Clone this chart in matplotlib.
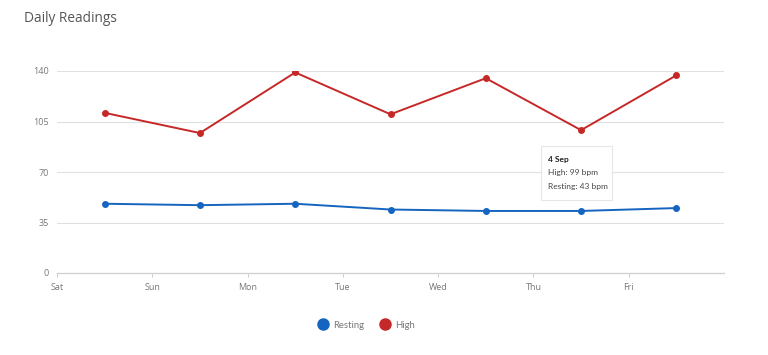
import matplotlib.pyplot as plt
from matplotlib.patches import Rectangle
from matplotlib.lines import Line2D

plt.rcParams['font.family'] = ['Open Sans', 'DejaVu Sans']

# day ticks (start of each day) and readings taken mid-day
day_labels = ['Sat', 'Sun', 'Mon', 'Tue', 'Wed', 'Thu', 'Fri']
day_pos = [0, 1, 2, 3, 4, 5, 6]
reading_pos = [0.5, 1.5, 2.5, 3.5, 4.5, 5.5, 6.5]
resting = [48, 47, 48, 44, 43, 43, 45]
high = [111, 97, 139, 110, 135, 99, 137]
y_ticks = [0, 35, 70, 105, 140]

blue = '#1565c0'
red = '#c62828'
grey_text = '#777777'

fig = plt.figure(figsize=(7.68, 3.55), dpi=100)
ax = fig.add_axes([57 / 768, 1 - 273 / 355, (724 - 57) / 768, (273 - 71) / 355])

ax.plot(reading_pos, resting, color=blue, lw=1.4, marker='o', ms=4, zorder=3)
ax.plot(reading_pos, high, color=red, lw=1.4, marker='o', ms=4, zorder=3)

ax.set_xlim(0, 7)
ax.set_ylim(0, 140)
ax.set_yticks(y_ticks)
ax.set_xticks(day_pos)
ax.set_xticklabels(day_labels)
ax.grid(axis='y', color='#e0e0e0', lw=0.8)
ax.set_axisbelow(True)
for s in ['top', 'right', 'left']:
    ax.spines[s].set_visible(False)
ax.spines['bottom'].set_color('#cfcfcf')
ax.spines['bottom'].set_linewidth(0.9)
ax.tick_params(axis='y', length=0, pad=6, labelsize=6.5, labelcolor=grey_text)
ax.tick_params(axis='x', length=3, color='#cfcfcf', pad=4, labelsize=6.5, labelcolor=grey_text)

fig.text(24 / 768, 1 - 19 / 355, 'Daily Readings', fontsize=9.8, color='#555555', va='center')

# tooltip for Thu
tip_font = ['Lato', 'DejaVu Sans']
fig.patches.append(Rectangle((541 / 768, 1 - 200 / 355), 71 / 768, 54 / 355,
                             transform=fig.transFigure, facecolor='white',
                             edgecolor='#e6e6e6', lw=0.8, zorder=5))
fig.text(548 / 768, 1 - 159 / 355, '4 Sep', fontsize=6, fontweight='bold', family=tip_font,
         color='#222222', va='center', zorder=6)
fig.text(548 / 768, 1 - 173 / 355, 'High: 99 bpm', fontsize=6, family=tip_font,
         color='#444444', va='center', zorder=6)
fig.text(548 / 768, 1 - 187 / 355, 'Resting: 43 bpm', fontsize=6, family=tip_font,
         color='#444444', va='center', zorder=6)

handles = [Line2D([], [], ls='', marker='o', ms=8, color=blue),
           Line2D([], [], ls='', marker='o', ms=8, color=red)]
fig.legend(handles, ['Resting', 'High'], loc='center', bbox_to_anchor=(366 / 768, 1 - 325 / 355),
           ncol=2, frameon=False, prop={'family': tip_font, 'size': 6.8}, labelcolor=grey_text,
           handletextpad=0.5, columnspacing=1.6, handlelength=1.2)

fig.savefig('out.png', dpi=100)
